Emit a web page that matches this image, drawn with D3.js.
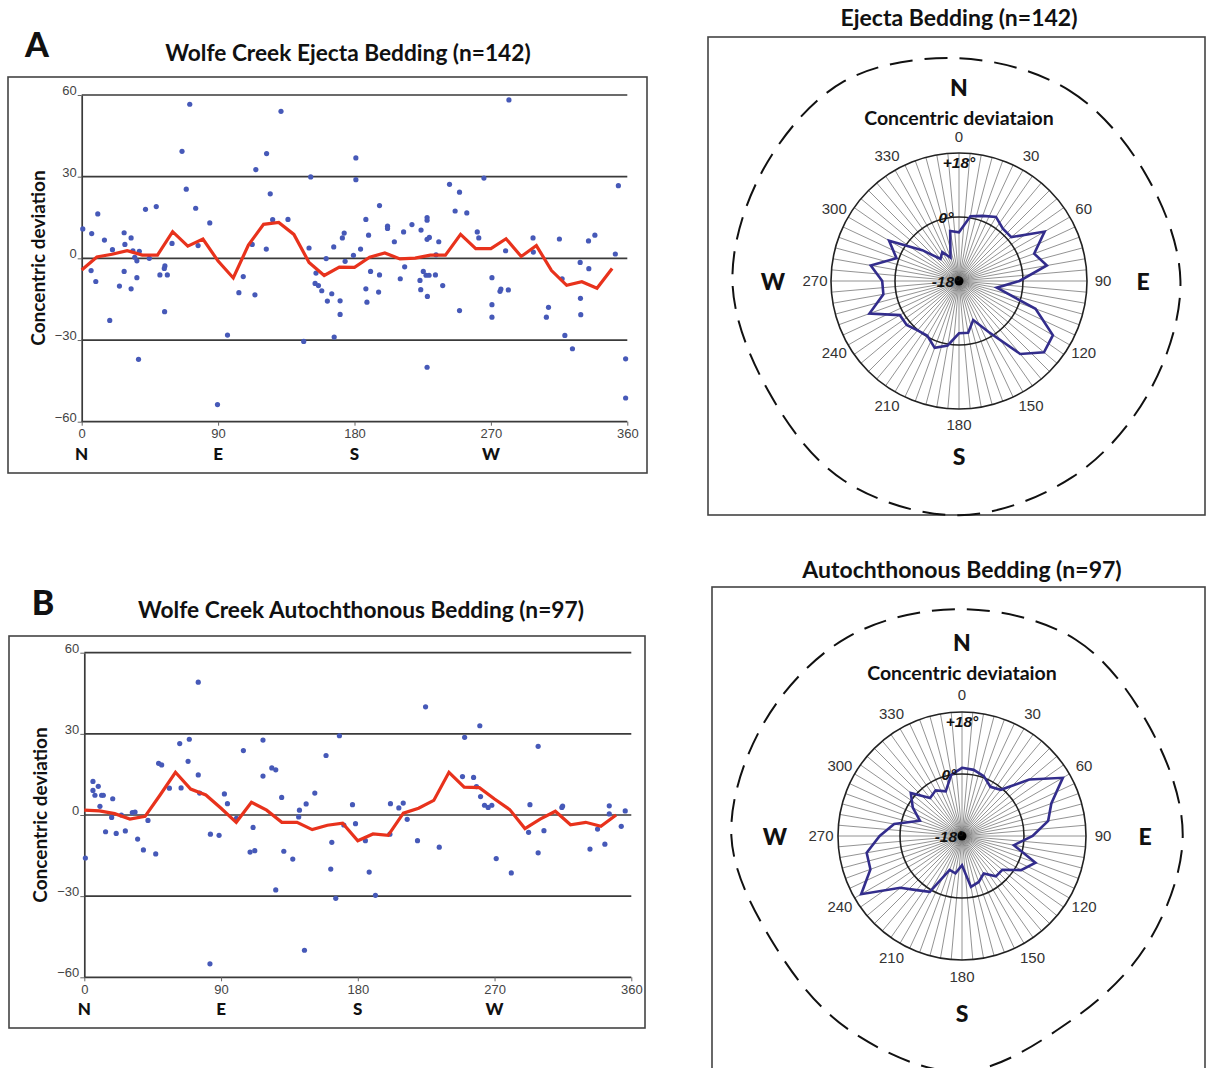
<!DOCTYPE html>
<html>
<head>
<meta charset="utf-8">
<script src="https://cdn.jsdelivr.net/npm/d3@7"></script>
<style>
  body { margin: 0; background: #fff; }
  svg { display: block; }
</style>
</head>
<body>
<svg id="fig" width="1208" height="1068"></svg>
<script>
// ---- data ----
// azimuth (deg) / concentric deviation (deg) of each bedding measurement
const ejectaPoints = [
  [0.7,10.8],[6.6,9.1],[6.2,-4.5],[9.3,-8.5],[10.6,16.3],[15,6.7],[18.5,-22.8],[20.3,3.2],[24.9,-10.2],[28,9.4],
  [28.5,5.1],[28,-4.8],[32.6,7.5],[32.6,-11.2],[33.8,2.8],[35,0.4],[36.4,-0.9],[36.4,-7.1],[37.5,-37.1],[38,2.6],
  [42.1,18],[44.6,0],[49.2,19],[51.6,-6.1],[54.7,-19.6],[54.9,-2.8],[54.5,-3.7],[56.5,-6.1],[59.6,5.5],[66.2,39.3],
  [69,25.4],[71.3,56.6],[75.2,18.4],[76.8,4.7],[84.5,13],[89.6,-53.7],[96.2,-28.2],[103.7,-12.6],[106.6,-6.7],[112.5,5.1],
  [114.3,-13.4],[114.9,32.6],[122,38.5],[121.8,3.4],[124.4,23.7],[126,14.2],[131.5,54],[136.1,14.3],[150,3.8],[151.1,29.9],
  [146.5,-30.5],[154.6,-5.4],[154,-9.2],[156.2,-10],[158.4,-11.9],[161.3,-0.1],[162.1,-15.7],[165,-13],[166.3,4.2],[166.6,-28.9],
  [170.5,-15.6],[170.5,-20.6],[172,7.5],[173.2,9.3],[173.8,-1.1],[179.3,1.1],[180.9,36.9],[180.9,28.9],[184,3.4],[187.5,14.3],
  [187.5,-11.2],[188.2,-16.1],[189.3,8.5],[190.6,-4.8],[195.9,-12.4],[196.5,19.4],[196.5,-6.1],[201.8,11.8],[201.8,11],[206.3,6.1],
  [210.2,-7.5],[212.4,9.7],[213.1,-3.1],[217.9,12.4],[223.2,-8.1],[223.7,-11.5],[223.9,10.4],[225.4,-4.8],[227.2,-6.2],[228.1,-14],
  [227.9,15],[227.9,14],[227.9,7],[229.4,7.7],[227.9,-40],[229.2,-6.2],[233.4,-6.1],[233.8,1.3],[235.6,6.1],[238.2,-10],
  [242.7,27.2],[246.4,17.4],[249.3,24.3],[249.3,-19.2],[254.1,16.7],[261,9.7],[262,7.5],[265.4,29.5],[270.7,-7.1],[270.7,-17],
  [270.7,-21.6],[276,-12.1],[276.6,-11.3],[279.7,2.8],[281.5,-11.6],[281.9,58.2],[297.8,7.5],[298,2.3],[306.6,-21.6],[308,-18],
  [315.2,7.1],[317,-7.5],[318.8,-28.3],[323.8,-33.2],[328.9,-1.5],[329.1,-14.7],[329.3,-20.7],[334.4,6.4],[334.6,-3.8],[338.6,8.5],
  [352.1,1.6],[354.1,26.7],[358.9,-36.9],[358.9,-51.3]
];
const autoPoints = [
  [0.7,-15.9],[5.7,12.4],[5.7,9.1],[7,7.3],[9.2,10.6],[10.3,3.2],[11.4,7.3],[12.5,7.3],[14,-6.2],[18,-0.9],
  [18.7,6],[21,-6.8],[24.4,0],[27,-5.9],[31.6,0.9],[33.4,1.1],[35.1,-8.9],[38.9,-12.9],[41.9,-2],[47,-14.4],
  [48.9,19.1],[50.9,18.5],[56,9.9],[62.8,26.4],[63.7,10],[68.3,19.8],[69.1,28],[75,49.1],[75,14.8],[75.9,8.1],
  [83,-7.1],[82.7,-55],[88.7,-7.5],[92.2,7.8],[94.2,4.2],[100.1,-1.2],[104.7,23.8],[109.1,-13.7],[111.1,-4.6],[112.2,-13.2],
  [117.6,14.4],[117.6,27.7],[123.4,17.4],[126,16.7],[126,-27.7],[129.9,6.5],[131.3,-13.4],[137.2,-16.3],[141.1,-0.7],[141.6,1.8],
  [144.9,-50],[146,4.1],[151.7,8.1],[159.1,22],[162.2,-20],[162.9,-10.1],[165.5,-30.8],[167.9,29.3],
  [170.8,-3.7],[176.5,3.8],[178.5,-3.2],[185,-9.5],[187.5,-21.1],[191.6,-29.7],[201.5,4.2],[201.1,-7.1],[207,2.6],[209.9,4.4],
  [212.5,-1.6],[219.3,-9.5],[224.6,40],[233.6,-11.9],[248.9,14.2],[250.3,28.7],[256.2,13.9],[258.1,10.5],[260.3,33],[260.8,6.8],
  [263.4,3.6],[265.8,2.8],[268.2,3.6],[271.1,-16.1],[281,-21.4],[292.4,-6.4],[293.3,3.8],[298.7,25.4],[298.7,-14],[302.5,-5.8],
  [314.3,2.8],[314.8,3.3],[332.8,-12.6],[337.8,-5.2],[342.6,-10.8],[345.5,3.4],[345.5,0.4],[353.4,-4.2],[356,1.5]
];

// running mean every 10 deg (red line, and the polar polygon)
const trendAz = [0,10,20,30,40,50,60,70,80,90,100,110,120,130,140,150,160,170,180,190,200,210,220,230,240,250,260,270,280,290,300,310,320,330,340,350];
const ejectaTrend = [-4.3,0.5,1.5,2.8,1.2,1.2,9.8,4.5,7.1,-1,-7.2,4.9,12.5,13.2,8.8,-1.5,-6.3,-3.2,-3.3,0.4,2,-0.2,0.1,1.2,1.2,8.8,3.6,3.6,7.2,0.7,4.7,-4.5,-9.9,-8.6,-11,-3.7];
const autoTrend   = [1.8,1.5,0.5,-1.5,-0.5,7.5,15.8,9.6,7.4,2.5,-2.7,4.7,1.8,-2.7,-2.7,-5.4,-3.8,-3,-9.5,-7,-7.5,0.7,2.5,5.4,15.8,10.3,10.1,5.9,2,-5,-1.5,1.4,-3.6,-2.7,-4.2,0];

// axis ticks and labels
const devTicks = [-60,-30,0,30,60];
const azTicks = [0,90,180,270,360];
const compassAz = [0,90,180,270];
const compassLbl = ['N','E','S','W'];
const polarTicks = [0,30,60,90,120,150,180,210,240,270,300,330];
const ringTicks = [-18,0,18];
const ringLbl = ['-18°','0°','+18°'];

// crater rim outline (radius as a multiple of the +18° ring) at every 30 deg
const rimAz = [0,30,60,90,120,150,180,210,240,270,300,330];
const ejectaRim = [1.74,1.72,1.68,1.73,1.72,1.77,1.83,1.80,1.72,1.77,1.76,1.80];
const autoRim   = [1.83,1.83,1.75,1.78,1.73,1.73,1.90,1.81,1.75,1.86,1.84,1.85];

// ---- drawing ----
const svg = d3.select('#fig');
const HEAD = 'Lato, "Open Sans", sans-serif';
const NUM = '"Liberation Sans", Arial, sans-serif';
const rad = d => d * Math.PI / 180;

svg.append('rect').attr('width', 1208).attr('height', 1068).attr('fill', '#fff');

function scatter(o) {
  const g = svg.append('g');
  g.append('rect').attr('x', o.box[0]).attr('y', o.box[1]).attr('width', o.box[2]).attr('height', o.box[3])
    .attr('fill', 'none').attr('stroke', '#444').attr('stroke-width', 1.6);

  const x = d3.scaleLinear().domain([0, 360]).range(o.xr);
  const y = d3.scaleLinear().domain([-60, 60]).range(o.yr);

  // horizontal grid
  g.append('g').selectAll('line').data(devTicks).join('line')
    .attr('x1', x(0)).attr('x2', x(360))
    .attr('y1', d => y(d)).attr('y2', d => y(d))
    .attr('stroke', '#3a3a3a').attr('stroke-width', 1.7);

  const ya = g.append('g').attr('transform', `translate(${x(0)},0)`)
    .call(d3.axisLeft(y).tickValues(devTicks).tickSize(4).tickSizeOuter(0).tickPadding(1));
  ya.select('.domain').attr('stroke', '#3a3a3a').attr('stroke-width', 1.7);
  ya.selectAll('.tick line').attr('stroke', '#666');
  ya.selectAll('.tick text').attr('font-family', NUM).attr('font-size', 13).attr('fill', '#444')
    .attr('dy', '-0.05em');

  const xa = g.append('g').attr('transform', `translate(0,${y(-60)})`)
    .call(d3.axisBottom(x).tickValues(azTicks).tickSize(4).tickSizeOuter(0).tickPadding(3));
  xa.select('.domain').remove();
  xa.selectAll('.tick line').attr('stroke', '#666');
  xa.selectAll('.tick text').attr('font-family', NUM).attr('font-size', 13).attr('fill', '#444');

  g.append('g').selectAll('text').data(compassAz).join('text')
    .attr('x', d => x(d)).attr('y', y(-60) + 38)
    .attr('text-anchor', 'middle').attr('font-family', HEAD).attr('font-weight', 900)
    .attr('font-size', 17).attr('fill', '#111')
    .text((d, i) => compassLbl[i]);

  g.append('text').attr('transform', `translate(${o.yTitle[0]},${o.yTitle[1]}) rotate(-90)`)
    .attr('text-anchor', 'middle').attr('font-family', HEAD).attr('font-weight', 700)
    .attr('font-size', 19).attr('fill', '#111').text('Concentric deviation');

  g.append('g').selectAll('circle').data(o.points).join('circle')
    .attr('cx', d => x(d[0])).attr('cy', d => y(d[1])).attr('r', 2.6)
    .attr('fill', '#4659b8');

  g.append('path').datum(trendAz.map((a, i) => [a, o.trend[i]]))
    .attr('d', d3.line().x(d => x(d[0])).y(d => y(d[1])))
    .attr('fill', 'none').attr('stroke', '#e8321c').attr('stroke-width', 3.2)
    .attr('stroke-linejoin', 'miter');

  g.append('text').attr('x', o.letter[0]).attr('y', o.letter[1]).attr('text-anchor', 'middle')
    .attr('font-family', HEAD).attr('font-weight', 900).attr('font-size', 34).attr('fill', '#111').text(o.letterTxt);
  g.append('text').attr('x', o.title[0]).attr('y', o.title[1]).attr('text-anchor', 'middle')
    .attr('font-family', HEAD).attr('font-weight', 700).attr('font-size', 22.7).attr('fill', '#111').text(o.titleTxt);
}

function polar(o) {
  const g = svg.append('g');
  g.append('rect').attr('x', o.box[0]).attr('y', o.box[1]).attr('width', o.box[2]).attr('height', o.box[3])
    .attr('fill', 'none').attr('stroke', '#444').attr('stroke-width', 1.6);
  g.append('text').attr('x', o.cx).attr('y', o.title).attr('text-anchor', 'middle')
    .attr('font-family', HEAD).attr('font-weight', 700).attr('font-size', 23).attr('fill', '#111').text(o.titleTxt);

  const c = g.append('g').attr('transform', `translate(${o.cx},${o.cy})`);
  const r = d3.scaleLinear().domain([-18, 18]).range([0, o.R]);

  // spokes every 5 deg
  c.append('g').selectAll('line').data(d3.range(0, 360, 5)).join('line')
    .attr('x1', 0).attr('y1', 0)
    .attr('x2', d => r(18) * Math.sin(rad(d))).attr('y2', d => -r(18) * Math.cos(rad(d)))
    .attr('stroke', '#777').attr('stroke-width', 0.8);
  c.append('circle').attr('r', 4.5).attr('fill', '#000');

  c.append('g').selectAll('circle').data([0, 18]).join('circle')
    .attr('r', d => r(d)).attr('fill', 'none').attr('stroke', '#222').attr('stroke-width', 1.6);

  c.append('path').datum(trendAz.map((a, i) => [a, o.trend[i]]))
    .attr('d', d3.lineRadial().angle(d => rad(d[0])).radius(d => r(d[1])).curve(d3.curveLinearClosed))
    .attr('fill', 'none').attr('stroke', '#332d8c').attr('stroke-width', 2.6).attr('stroke-linejoin', 'miter');

  // ring labels
  c.append('g').selectAll('text').data(ringTicks).join('text')
    .attr('x', (d, i) => i === 2 ? 0 : -13)
    .attr('y', d => d === -18 ? 6 : -r(d) + (d === 18 ? 15 : 6))
    .attr('text-anchor', 'middle').attr('font-family', NUM).attr('font-weight', 700)
    .attr('font-style', 'italic').attr('font-size', 15.5).attr('fill', '#111')
    .text((d, i) => ringLbl[i]);

  // azimuth labels
  c.append('g').selectAll('text').data(polarTicks).join('text')
    .attr('x', d => o.lr * Math.sin(rad(d))).attr('y', d => -o.lr * Math.cos(rad(d)) + 5)
    .attr('text-anchor', 'middle').attr('font-family', NUM).attr('font-size', 15).attr('fill', '#333')
    .text(d => d);

  c.append('text').attr('y', -156).attr('text-anchor', 'middle')
    .attr('font-family', HEAD).attr('font-weight', 700).attr('font-size', 19.5).attr('fill', '#111')
    .text('Concentric deviataion');

  const cp = [[0, -185], [o.eX, 9], [0, o.sY + 8], [-o.wX, 9]];
  c.append('g').selectAll('text').data(compassLbl).join('text')
    .attr('x', (d, i) => cp[i][0]).attr('y', (d, i) => cp[i][1])
    .attr('text-anchor', 'middle').attr('font-family', HEAD).attr('font-weight', 900)
    .attr('font-size', 23).attr('fill', '#111').text(d => d);

  c.append('path').datum(rimAz.map((a, i) => [a, o.rim[i]]))
    .attr('d', d3.lineRadial().angle(d => rad(d[0])).radius(d => d[1] * o.R).curve(d3.curveCardinalClosed))
    .attr('fill', 'none').attr('stroke', '#111').attr('stroke-width', 2).attr('stroke-dasharray', '23,12');
}

scatter({
  box: [8, 77, 639, 396], xr: [81.7, 627.3], yr: [421.7, 95],
  points: ejectaPoints, trend: ejectaTrend, yTitle: [45, 258],
  letter: [37, 57], letterTxt: 'A', title: [348, 61], titleTxt: 'Wolfe Creek Ejecta Bedding (n=142)'
});
scatter({
  box: [9, 636, 636, 392], xr: [84.3, 631.3], yr: [977.3, 652.7],
  points: autoPoints, trend: autoTrend, yTitle: [47, 815],
  letter: [43, 615], letterTxt: 'B', title: [361, 618], titleTxt: 'Wolfe Creek Autochthonous Bedding (n=97)'
});
polar({
  box: [708, 37, 497, 478], cx: 959, cy: 281, R: 128, lr: 144, title: 26,
  titleTxt: 'Ejecta Bedding (n=142)', trend: ejectaTrend, rim: ejectaRim, eX: 184, wX: 186, sY: 176
});
polar({
  box: [712, 587, 493, 490], cx: 962, cy: 836, R: 124, lr: 141, title: 578,
  titleTxt: 'Autochthonous Bedding (n=97)', trend: autoTrend, rim: autoRim, eX: 183, wX: 187, sY: 178
});
</script>
</body>
</html>
